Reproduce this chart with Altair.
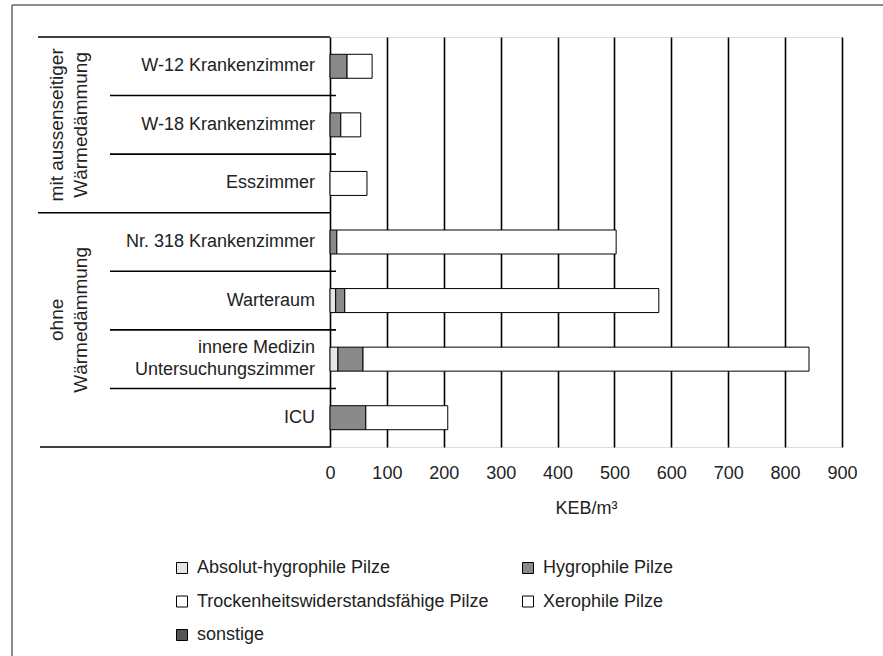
import altair as alt
import pandas as pd

rooms = ["W-12 Krankenzimmer", "W-18 Krankenzimmer", "Esszimmer",
         "Nr. 318 Krankenzimmer", "Warteraum",
         "innere Medizin Untersuchungszimmer", "ICU"]
room_labels = ["W-12 Krankenzimmer", "W-18 Krankenzimmer", "Esszimmer",
               "Nr. 318 Krankenzimmer", "Warteraum",
               "innere Medizin\nUntersuchungszimmer", "ICU"]
room_dy = [0, 0, 0, 0, 0, -11, 0]
species = ["Absolut-hygrophile Pilze", "Hygrophile Pilze",
           "Trockenheitswiderstandsfähige Pilze", "Xerophile Pilze", "sonstige"]
species_colors = ["#e6e6e6", "#8a8a8a", "#ffffff", "#ffffff", "#555555"]
# legend fills column by column: order the domain so rows read like the original
legend_order = [0, 2, 4, 1, 3]

absolut = [0, 0, 0, 0, 10, 14, 0]
hygro = [30, 19, 0, 12, 16, 44, 63]
trocken = [0, 0, 0, 0, 0, 0, 0]
xero = [44, 35, 65, 491, 552, 784, 144]
sonstige = [0, 0, 0, 0, 0, 0, 0]

groups = ["mit aussenseitiger\nWärmedämmung", "ohne\nWärmedämmung"]
group_anchor = ["W-18 Krankenzimmer", "innere Medizin Untersuchungszimmer"]
group_band = [0.5, 0.0]
group_dx = [0, 10]
group_start = ["W-12 Krankenzimmer", "Nr. 318 Krankenzimmer"]
row_separators = ["W-18 Krankenzimmer", "Esszimmer", "Warteraum",
                  "innere Medizin Untersuchungszimmer", "ICU"]
ticks = [0, 100, 200, 300, 400, 500, 600, 700, 800, 900]

FONT = "Liberation Sans"
TXT = "#222222"

rows = []
series = [absolut, hygro, trocken, xero, sonstige]
for r_i, room in enumerate(rooms):
    for s_i, sp in enumerate(species):
        v = series[s_i][r_i]
        if v > 0:
            rows.append({"room": room, "species": sp, "value": v, "ord": s_i})
df = pd.DataFrame(rows)

yscale = alt.Scale(domain=rooms, paddingInner=0, paddingOuter=0)

bars = alt.Chart(df).mark_bar(size=24, stroke="black", strokeWidth=1).encode(
    x=alt.X("value:Q", stack="zero",
            scale=alt.Scale(domain=[0, 900], nice=False),
            axis=alt.Axis(values=ticks, grid=True, gridColor="black", gridWidth=1.6,
                          domain=False, ticks=False, labelFontSize=18, labelFont=FONT,
                          labelColor=TXT, labelPadding=17, labelFlush=False,
                          labelOverlap=False, title="KEB/m³",
                          titleFont=FONT, titleFontSize=18, titleFontWeight="normal",
                          titleColor=TXT, titlePadding=17)),
    y=alt.Y("room:N", scale=yscale, axis=None),
    color=alt.Color("species:N",
                    scale=alt.Scale(domain=[species[i] for i in legend_order],
                                    range=[species_colors[i] for i in legend_order]),
                    legend=alt.Legend(title=None, orient="none", legendX=-157, legendY=522,
                                      columns=2, symbolType="square", symbolSize=121,
                                      symbolStrokeColor="black", symbolStrokeWidth=1,
                                      labelFontSize=18, labelFont=FONT, labelColor=TXT,
                                      labelLimit=0, labelOffset=6, rowPadding=15.5,
                                      columnPadding=30, padding=0)),
    order=alt.Order("ord:Q"),
)

lab_df = pd.DataFrame({"room": rooms, "label": room_labels, "dy": room_dy})
labels = []
for i in range(len(rooms)):
    labels.append(
        alt.Chart(lab_df.iloc[[i]]).mark_text(align="right", baseline="middle", fontSize=18,
                                              font=FONT, color=TXT, lineBreak="\n",
                                              lineHeight=22, dy=room_dy[i]).encode(
            y=alt.Y("room:N", scale=yscale, axis=None),
            x=alt.value(-15),
            text="label:N",
        )
    )

sep_df = pd.DataFrame({"room": row_separators})
seps = alt.Chart(sep_df).mark_rule(color="black", strokeWidth=1.6).encode(
    y=alt.Y("room:N", scale=yscale, axis=None, bandPosition=0),
    x=alt.value(-220), x2=alt.value(6),
)

gstart_df = pd.DataFrame({"room": group_start})
gseps = alt.Chart(gstart_df).mark_rule(color="black", strokeWidth=1.6).encode(
    y=alt.Y("room:N", scale=yscale, axis=None, bandPosition=0),
    x=alt.value(-292), x2=alt.value(0),
)
gbottom = alt.Chart(pd.DataFrame({"room": [rooms[-1]]})).mark_rule(
    color="black", strokeWidth=1.6).encode(
    y=alt.Y("room:N", scale=yscale, axis=None, bandPosition=1),
    x=alt.value(-290), x2=alt.value(0),
)

g_df = pd.DataFrame({"room": group_anchor, "g": groups})
glabels = []
for i in range(2):
    glabels.append(
        alt.Chart(g_df.iloc[[i]]).mark_text(angle=270, align="center", baseline="middle",
                                            fontSize=19, font=FONT, color=TXT,
                                            lineBreak="\n", lineHeight=24,
                                            dx=group_dx[i]).encode(
            y=alt.Y("room:N", scale=yscale, axis=None, bandPosition=group_band[i]),
            x=alt.value(-273),
            text="g:N",
        )
    )

frame_top = alt.Chart(pd.DataFrame({"a": [0]})).mark_rule(
    color="#666666", strokeWidth=1.5).encode(
    x=alt.value(-318), x2=alt.value(560), y=alt.value(-32))
frame_left = alt.Chart(pd.DataFrame({"a": [0]})).mark_rule(
    color="#666666", strokeWidth=1.5).encode(
    x=alt.value(-318), y=alt.value(-32), y2=alt.value(630))

chart = alt.layer(frame_top, frame_left, seps, gseps, gbottom, *glabels, *labels, bars).properties(
    width=512, height=410,
    autosize=alt.AutoSizeParams(type="none"),
    padding={"left": 330, "top": 37, "right": 41, "bottom": 209},
).configure_view(stroke="black", strokeWidth=1.6).configure(background="white")

chart.save("out.html", embed_options={"renderer": "svg", "actions": False})
